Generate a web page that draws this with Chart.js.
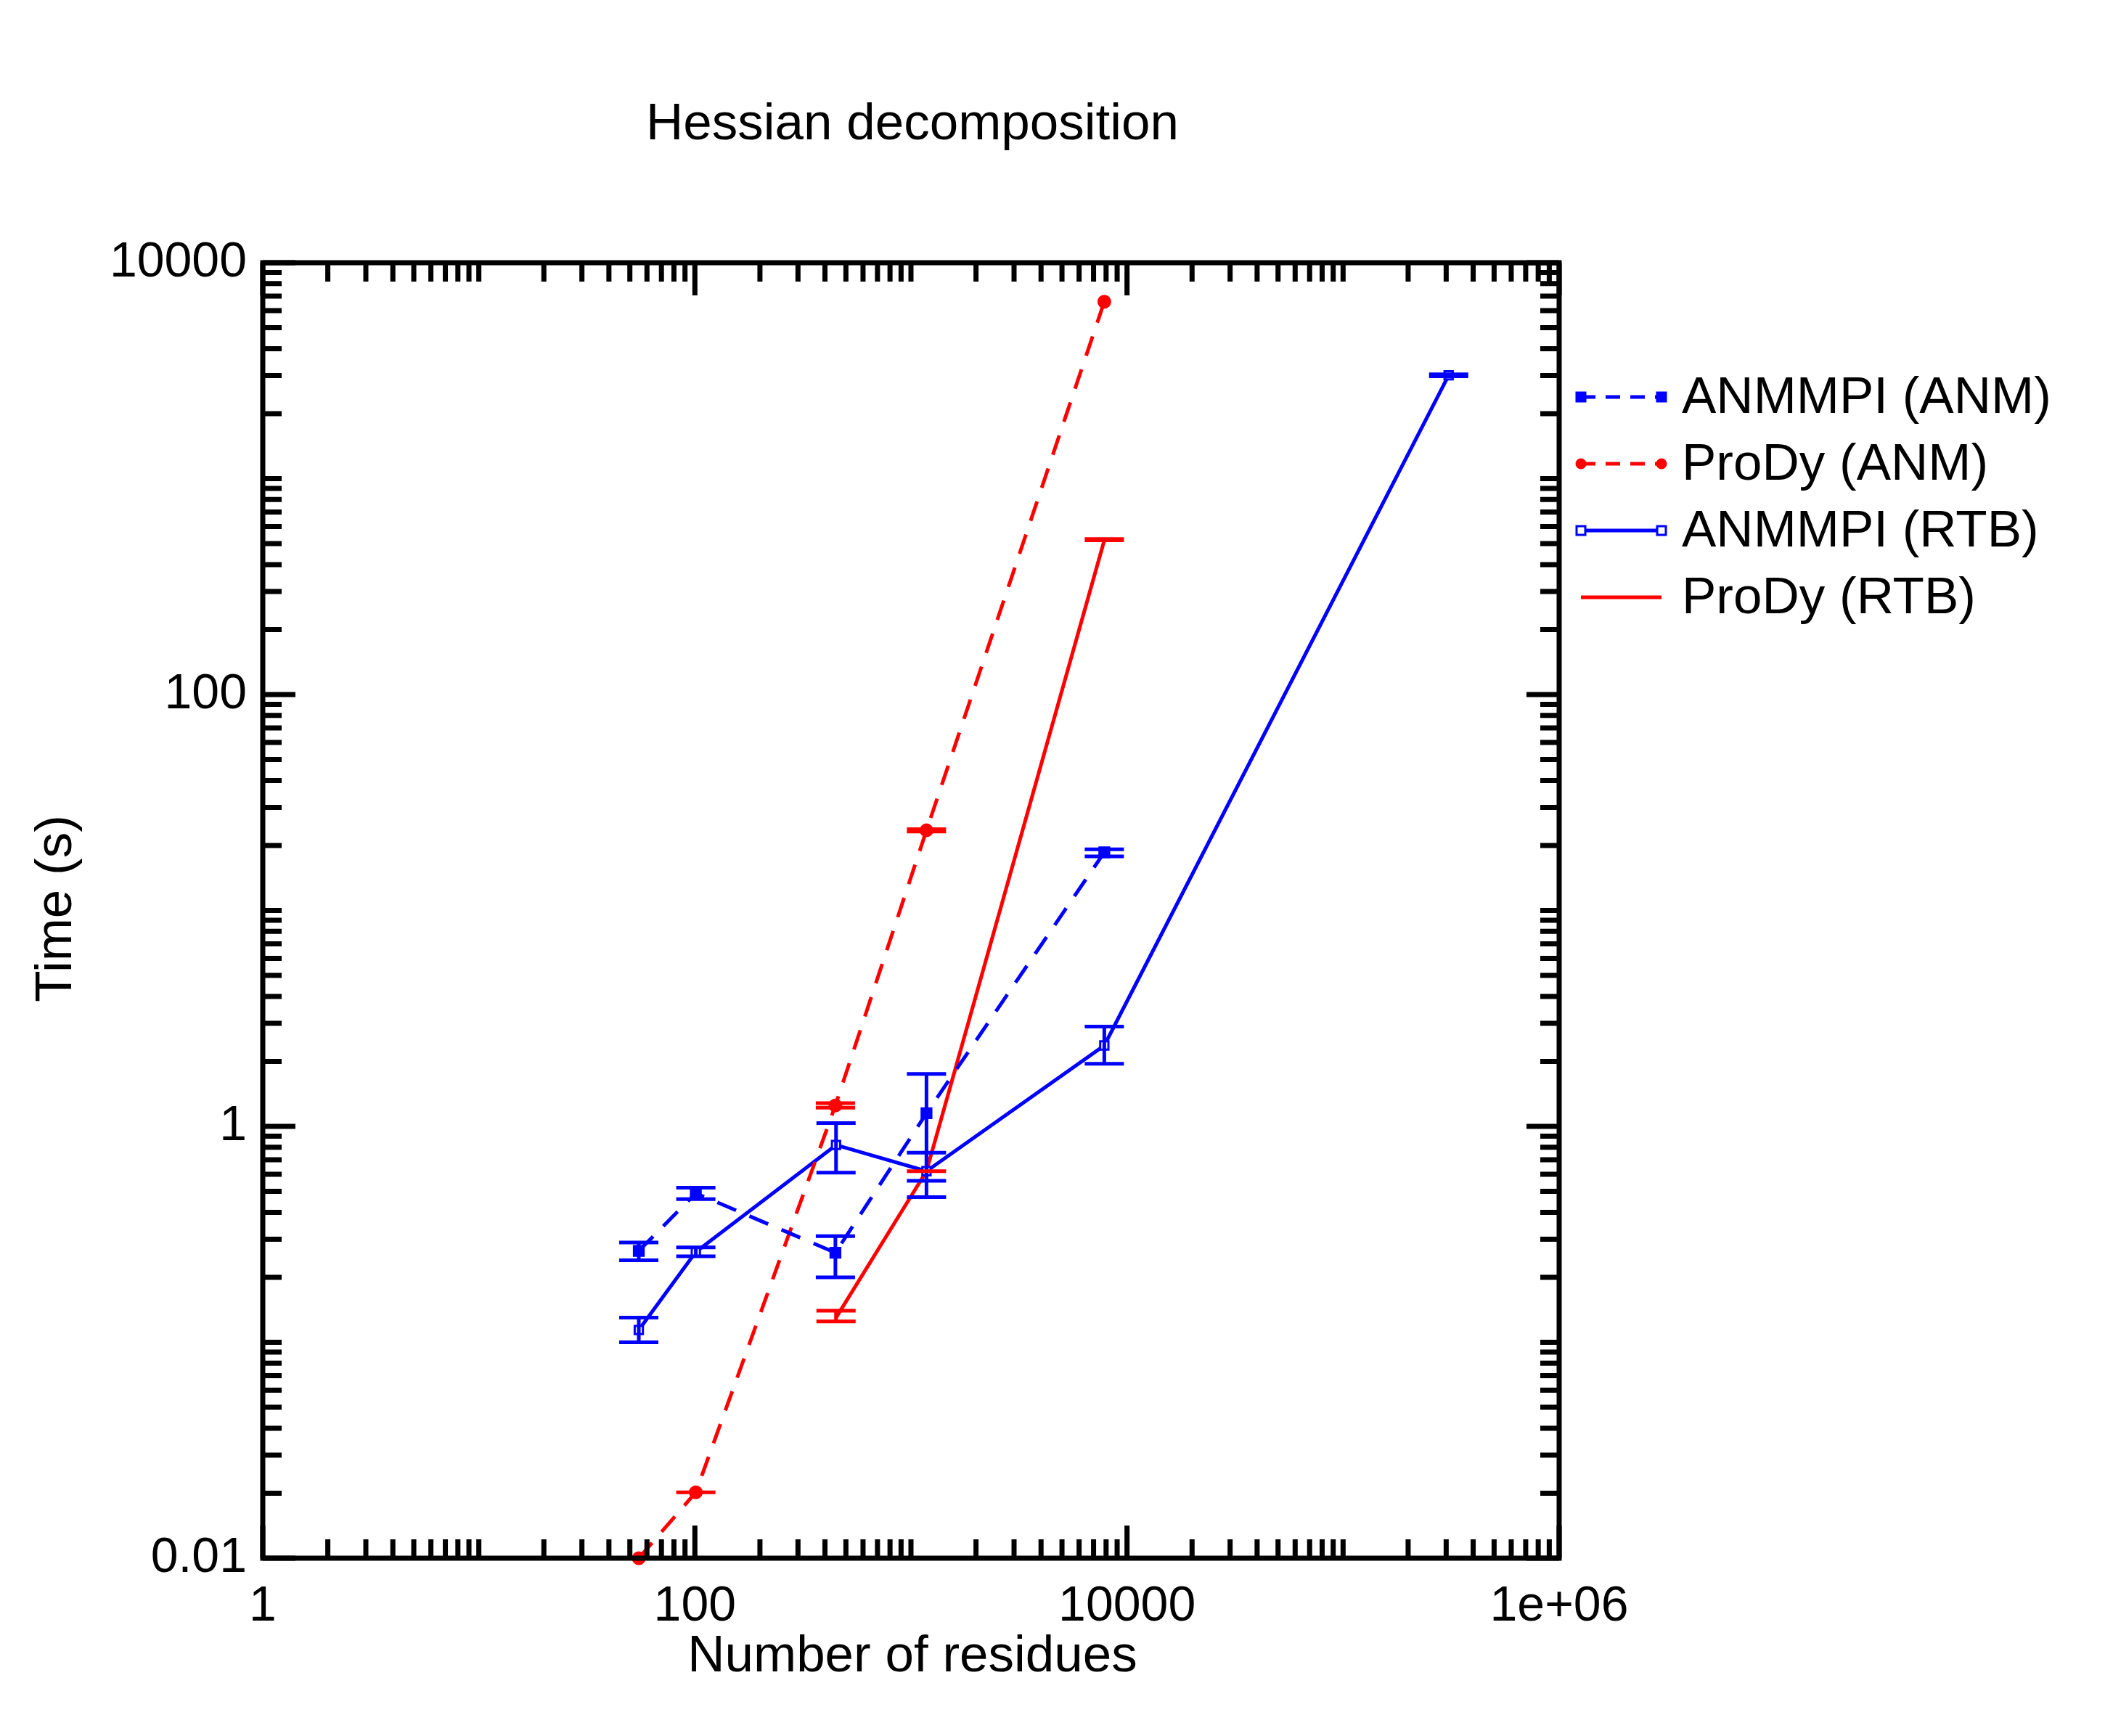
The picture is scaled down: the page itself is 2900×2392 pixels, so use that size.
<!DOCTYPE html>
<html><head><meta charset="utf-8">
<script src="https://cdn.jsdelivr.net/npm/chart.js@4/dist/chart.umd.min.js"></script>
<style>body{margin:0;background:#fff}</style>
</head><body>
<canvas id="c" width="2900" height="2392"></canvas>
<script>
// data
const nAnm = [55, 101, 447, 1180, 7850];
const anmmpiAnm = [0.265, 0.49, 0.26, 1.15, 18.6];
const anmmpiAnmLo = [0.24, 0.46, 0.2, 0.47, 17.8];
const anmmpiAnmHi = [0.29, 0.52, 0.31, 1.75, 19.2];
const prodyAnm = [0.01, 0.0202, 1.25, 23.5, 6600];
const prodyAnmLo = [null, 0.0202, 1.22, 23.2, null];
const prodyAnmHi = [null, 0.0202, 1.28, 23.8, null];
const nRtb = [55, 101, 450, 1180, 7850, 308000];
const anmmpiRtb = [0.114, 0.262, 0.82, 0.62, 2.37, 3010];
const anmmpiRtbLo = [0.1, 0.25, 0.61, 0.56, 1.95, 2980];
const anmmpiRtbHi = [0.13, 0.275, 1.035, 0.755, 2.9, 3040];
const nProdyRtb = [450, 1180, 7850];
const prodyRtb = [0.13, 0.62, 518];
const prodyRtbLo = [0.125, 0.62, 518];
const prodyRtbHi = [0.14, 0.62, 525];
const xTicks = [1, 100, 10000, 1000000];
const xLabels = ['1', '100', '10000', '1e+06'];
const yTicks = [0.01, 1, 100, 10000];
const yLabels = ['0.01', '1', '100', '10000'];

const BLUE = '#0000ff', RED = '#ff0000';
const FONT = '"Liberation Sans", Arial, sans-serif';
const pts = (xs, ys) => xs.map((x, i) => ({x, y: ys[i]}));

const datasets = [
  {label: 'ANMMPI (ANM)', data: pts(nAnm, anmmpiAnm), lo: anmmpiAnmLo, hi: anmmpiAnmHi,
   borderColor: BLUE, backgroundColor: BLUE, borderDash: [28, 20], pointStyle: 'rect', pointRadius: 8},
  {label: 'ProDy (ANM)', data: pts(nAnm, prodyAnm), lo: prodyAnmLo, hi: prodyAnmHi,
   borderColor: RED, backgroundColor: RED, borderDash: [28, 20], pointStyle: 'circle', pointRadius: 7},
  {label: 'ANMMPI (RTB)', data: pts(nRtb, anmmpiRtb), lo: anmmpiRtbLo, hi: anmmpiRtbHi,
   borderColor: BLUE, backgroundColor: '#fff', pointStyle: 'rect', pointRadius: 8, pointBorderWidth: 3},
  {label: 'ProDy (RTB)', data: pts(nProdyRtb, prodyRtb), lo: prodyRtbLo, hi: prodyRtbHi,
   borderColor: RED, backgroundColor: RED, pointRadius: 0}
];
datasets.forEach(d => { d.borderWidth = 5; d.tension = 0; d.clip = false; });

const decor = {
  id: 'decor',
  afterDatasetsDraw(chart) {
    const c = chart.ctx, a = chart.chartArea, xs = chart.scales.x, ys = chart.scales.y;
    c.save();
    // error bars
    chart.data.datasets.forEach(d => {
      c.strokeStyle = d.borderColor; c.lineWidth = 5; c.setLineDash([]);
      d.data.forEach((p, i) => {
        if (d.lo[i] == null) return;
        const px = xs.getPixelForValue(p.x), y1 = ys.getPixelForValue(d.lo[i]), y2 = ys.getPixelForValue(d.hi[i]);
        c.beginPath();
        c.moveTo(px, y1); c.lineTo(px, y2);
        c.moveTo(px - 27, y1); c.lineTo(px + 27, y1);
        c.moveTo(px - 27, y2); c.lineTo(px + 27, y2);
        c.stroke();
      });
    });
    // frame and ticks
    c.strokeStyle = '#000'; c.lineWidth = 7;
    c.strokeRect(a.left, a.top, a.right - a.left, a.bottom - a.top);
    c.beginPath();
    for (let e = 0; e <= 6; e++) for (let m = 1; m <= 9; m++) {
      const v = Math.pow(10, e) * m; if (v > 1e6) break;
      const px = xs.getPixelForValue(v), len = (m === 1 && e % 2 === 0) ? 45 : 26;
      c.moveTo(px, a.bottom); c.lineTo(px, a.bottom - len);
      c.moveTo(px, a.top); c.lineTo(px, a.top + len);
    }
    for (let e = -2; e <= 4; e++) for (let m = 1; m <= 9; m++) {
      const v = Math.pow(10, e) * m; if (v > 1e4) break;
      const py = ys.getPixelForValue(v), len = (m === 1 && e % 2 === 0) ? 45 : 26;
      c.moveTo(a.left, py); c.lineTo(a.left + len, py);
      c.moveTo(a.right, py); c.lineTo(a.right - len, py);
    }
    c.stroke();
    // texts
    c.fillStyle = '#000'; c.font = '71px ' + FONT; c.textAlign = 'center'; c.textBaseline = 'middle';
    c.fillText('Hessian decomposition', 1257, 172);
    c.fillText('Number of residues', 1257, 2283);
    c.save(); c.translate(78, 1252); c.rotate(-Math.PI / 2); c.fillText('Time (s)', 0, 0); c.restore();
    // legend
    c.textAlign = 'left';
    chart.data.datasets.forEach((d, i) => {
      const y = 547 + i * 92;
      c.strokeStyle = d.borderColor; c.lineWidth = 5; c.setLineDash(d.borderDash ? [20, 14] : []);
      c.beginPath(); c.moveTo(2178, y); c.lineTo(2289, y); c.stroke(); c.setLineDash([]);
      if (d.pointRadius) {
        c.fillStyle = d.backgroundColor; c.strokeStyle = d.borderColor; c.lineWidth = 3;
        [2178, 2289].forEach(px => {
          c.beginPath();
          if (d.pointStyle === 'circle') c.arc(px, y, 6, 0, 7); else c.rect(px - 6, y - 6, 12, 12);
          c.fill(); c.stroke();
        });
      }
      c.fillStyle = '#000'; c.fillText(d.label, 2317, y + 2);
    });
    c.restore();
  }
};

new Chart(document.getElementById('c'), {
  type: 'line',
  data: {datasets},
  plugins: [decor],
  options: {
    responsive: false, animation: false,
    layout: {padding: {top: 362, right: 752, left: 0, bottom: 0}},
    plugins: {legend: {display: false}, tooltip: {enabled: false}},
    scales: {
      x: {type: 'logarithmic', min: 1, max: 1e6,
          afterBuildTicks: s => { s.ticks = xTicks.map(v => ({value: v})); },
          afterFit: s => { s.height = 245; },
          grid: {display: false}, border: {display: false},
          ticks: {color: '#000', font: {size: 68, family: FONT}, padding: 18, maxRotation: 0,
                  callback: v => xLabels[xTicks.indexOf(v)]}},
      y: {type: 'logarithmic', min: 0.01, max: 10000,
          afterBuildTicks: s => { s.ticks = yTicks.map(v => ({value: v})); },
          afterFit: s => { s.width = 362; },
          grid: {display: false}, border: {display: false},
          ticks: {color: '#000', font: {size: 68, family: FONT}, padding: 14,
                  callback: v => yLabels[yTicks.indexOf(v)]}}
    }
  }
});
</script>
</body></html>
